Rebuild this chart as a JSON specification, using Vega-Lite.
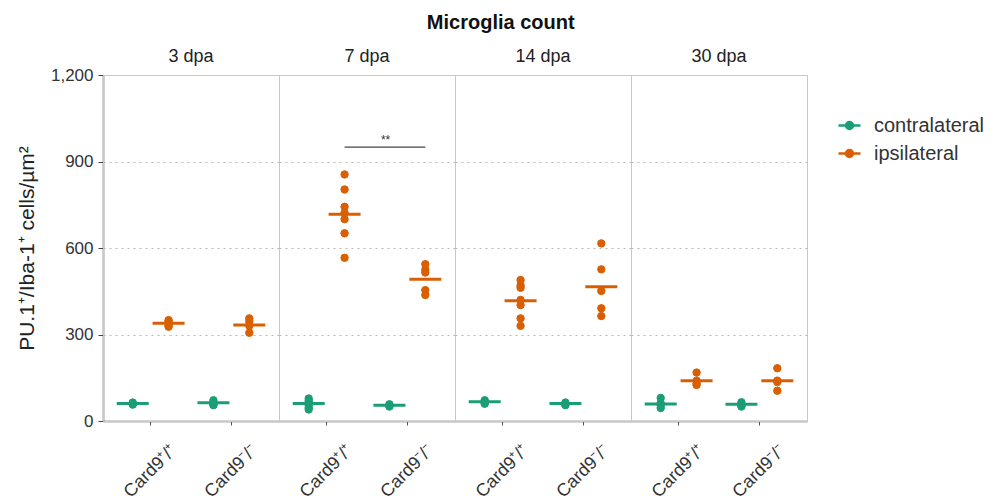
{
  "$schema": "https://vega.github.io/schema/vega-lite/v6.json",
  "background": "white",
  "padding": {"left": 16, "top": 13, "right": 2, "bottom": 2},
  "bounds": "flush",
  "title": {"text": "Microglia count", "fontSize": 20, "fontWeight": "bold", "font": "Liberation Sans", "color": "#111", "anchor": "middle", "offset": 15},
  "config": {
    "font": "Liberation Sans",
    "view": {"stroke": "#c8c8c8", "strokeWidth": 1}
  },
  "data": {"values": [
    {"kind": "point", "dpa": "3 dpa", "genotype": "Card9⁺/⁺", "side": "contralateral", "value": 62},
    {"kind": "point", "dpa": "3 dpa", "genotype": "Card9⁺/⁺", "side": "contralateral", "value": 58},
    {"kind": "point", "dpa": "3 dpa", "genotype": "Card9⁺/⁺", "side": "contralateral", "value": 60},
    {"kind": "point", "dpa": "3 dpa", "genotype": "Card9⁺/⁺", "side": "contralateral", "value": 64},
    {"kind": "point", "dpa": "3 dpa", "genotype": "Card9⁺/⁺", "side": "contralateral", "value": 57},
    {"kind": "point", "dpa": "3 dpa", "genotype": "Card9⁺/⁺", "side": "ipsilateral", "value": 350},
    {"kind": "point", "dpa": "3 dpa", "genotype": "Card9⁺/⁺", "side": "ipsilateral", "value": 345},
    {"kind": "point", "dpa": "3 dpa", "genotype": "Card9⁺/⁺", "side": "ipsilateral", "value": 338},
    {"kind": "point", "dpa": "3 dpa", "genotype": "Card9⁺/⁺", "side": "ipsilateral", "value": 330},
    {"kind": "point", "dpa": "3 dpa", "genotype": "Card9⁺/⁺", "side": "ipsilateral", "value": 327},
    {"kind": "point", "dpa": "3 dpa", "genotype": "Card9⁻/⁻", "side": "contralateral", "value": 72},
    {"kind": "point", "dpa": "3 dpa", "genotype": "Card9⁻/⁻", "side": "contralateral", "value": 64},
    {"kind": "point", "dpa": "3 dpa", "genotype": "Card9⁻/⁻", "side": "contralateral", "value": 60},
    {"kind": "point", "dpa": "3 dpa", "genotype": "Card9⁻/⁻", "side": "contralateral", "value": 57},
    {"kind": "point", "dpa": "3 dpa", "genotype": "Card9⁻/⁻", "side": "contralateral", "value": 55},
    {"kind": "point", "dpa": "3 dpa", "genotype": "Card9⁻/⁻", "side": "ipsilateral", "value": 356},
    {"kind": "point", "dpa": "3 dpa", "genotype": "Card9⁻/⁻", "side": "ipsilateral", "value": 345},
    {"kind": "point", "dpa": "3 dpa", "genotype": "Card9⁻/⁻", "side": "ipsilateral", "value": 330},
    {"kind": "point", "dpa": "3 dpa", "genotype": "Card9⁻/⁻", "side": "ipsilateral", "value": 306},
    {"kind": "point", "dpa": "7 dpa", "genotype": "Card9⁺/⁺", "side": "contralateral", "value": 78},
    {"kind": "point", "dpa": "7 dpa", "genotype": "Card9⁺/⁺", "side": "contralateral", "value": 70},
    {"kind": "point", "dpa": "7 dpa", "genotype": "Card9⁺/⁺", "side": "contralateral", "value": 64},
    {"kind": "point", "dpa": "7 dpa", "genotype": "Card9⁺/⁺", "side": "contralateral", "value": 60},
    {"kind": "point", "dpa": "7 dpa", "genotype": "Card9⁺/⁺", "side": "contralateral", "value": 55},
    {"kind": "point", "dpa": "7 dpa", "genotype": "Card9⁺/⁺", "side": "contralateral", "value": 46},
    {"kind": "point", "dpa": "7 dpa", "genotype": "Card9⁺/⁺", "side": "contralateral", "value": 40},
    {"kind": "point", "dpa": "7 dpa", "genotype": "Card9⁺/⁺", "side": "ipsilateral", "value": 855},
    {"kind": "point", "dpa": "7 dpa", "genotype": "Card9⁺/⁺", "side": "ipsilateral", "value": 803},
    {"kind": "point", "dpa": "7 dpa", "genotype": "Card9⁺/⁺", "side": "ipsilateral", "value": 743},
    {"kind": "point", "dpa": "7 dpa", "genotype": "Card9⁺/⁺", "side": "ipsilateral", "value": 722},
    {"kind": "point", "dpa": "7 dpa", "genotype": "Card9⁺/⁺", "side": "ipsilateral", "value": 700},
    {"kind": "point", "dpa": "7 dpa", "genotype": "Card9⁺/⁺", "side": "ipsilateral", "value": 651},
    {"kind": "point", "dpa": "7 dpa", "genotype": "Card9⁺/⁺", "side": "ipsilateral", "value": 566},
    {"kind": "point", "dpa": "7 dpa", "genotype": "Card9⁻/⁻", "side": "contralateral", "value": 58},
    {"kind": "point", "dpa": "7 dpa", "genotype": "Card9⁻/⁻", "side": "contralateral", "value": 55},
    {"kind": "point", "dpa": "7 dpa", "genotype": "Card9⁻/⁻", "side": "contralateral", "value": 52},
    {"kind": "point", "dpa": "7 dpa", "genotype": "Card9⁻/⁻", "side": "contralateral", "value": 50},
    {"kind": "point", "dpa": "7 dpa", "genotype": "Card9⁻/⁻", "side": "ipsilateral", "value": 544},
    {"kind": "point", "dpa": "7 dpa", "genotype": "Card9⁻/⁻", "side": "ipsilateral", "value": 525},
    {"kind": "point", "dpa": "7 dpa", "genotype": "Card9⁻/⁻", "side": "ipsilateral", "value": 515},
    {"kind": "point", "dpa": "7 dpa", "genotype": "Card9⁻/⁻", "side": "ipsilateral", "value": 454},
    {"kind": "point", "dpa": "7 dpa", "genotype": "Card9⁻/⁻", "side": "ipsilateral", "value": 437},
    {"kind": "point", "dpa": "14 dpa", "genotype": "Card9⁺/⁺", "side": "contralateral", "value": 72},
    {"kind": "point", "dpa": "14 dpa", "genotype": "Card9⁺/⁺", "side": "contralateral", "value": 68},
    {"kind": "point", "dpa": "14 dpa", "genotype": "Card9⁺/⁺", "side": "contralateral", "value": 65},
    {"kind": "point", "dpa": "14 dpa", "genotype": "Card9⁺/⁺", "side": "contralateral", "value": 62},
    {"kind": "point", "dpa": "14 dpa", "genotype": "Card9⁺/⁺", "side": "contralateral", "value": 60},
    {"kind": "point", "dpa": "14 dpa", "genotype": "Card9⁺/⁺", "side": "ipsilateral", "value": 489},
    {"kind": "point", "dpa": "14 dpa", "genotype": "Card9⁺/⁺", "side": "ipsilateral", "value": 470},
    {"kind": "point", "dpa": "14 dpa", "genotype": "Card9⁺/⁺", "side": "ipsilateral", "value": 462},
    {"kind": "point", "dpa": "14 dpa", "genotype": "Card9⁺/⁺", "side": "ipsilateral", "value": 420},
    {"kind": "point", "dpa": "14 dpa", "genotype": "Card9⁺/⁺", "side": "ipsilateral", "value": 402},
    {"kind": "point", "dpa": "14 dpa", "genotype": "Card9⁺/⁺", "side": "ipsilateral", "value": 356},
    {"kind": "point", "dpa": "14 dpa", "genotype": "Card9⁺/⁺", "side": "ipsilateral", "value": 330},
    {"kind": "point", "dpa": "14 dpa", "genotype": "Card9⁻/⁻", "side": "contralateral", "value": 64},
    {"kind": "point", "dpa": "14 dpa", "genotype": "Card9⁻/⁻", "side": "contralateral", "value": 60},
    {"kind": "point", "dpa": "14 dpa", "genotype": "Card9⁻/⁻", "side": "contralateral", "value": 57},
    {"kind": "point", "dpa": "14 dpa", "genotype": "Card9⁻/⁻", "side": "contralateral", "value": 55},
    {"kind": "point", "dpa": "14 dpa", "genotype": "Card9⁻/⁻", "side": "ipsilateral", "value": 616},
    {"kind": "point", "dpa": "14 dpa", "genotype": "Card9⁻/⁻", "side": "ipsilateral", "value": 526},
    {"kind": "point", "dpa": "14 dpa", "genotype": "Card9⁻/⁻", "side": "ipsilateral", "value": 451},
    {"kind": "point", "dpa": "14 dpa", "genotype": "Card9⁻/⁻", "side": "ipsilateral", "value": 391},
    {"kind": "point", "dpa": "14 dpa", "genotype": "Card9⁻/⁻", "side": "ipsilateral", "value": 364},
    {"kind": "point", "dpa": "30 dpa", "genotype": "Card9⁺/⁺", "side": "contralateral", "value": 80},
    {"kind": "point", "dpa": "30 dpa", "genotype": "Card9⁺/⁺", "side": "contralateral", "value": 62},
    {"kind": "point", "dpa": "30 dpa", "genotype": "Card9⁺/⁺", "side": "contralateral", "value": 55},
    {"kind": "point", "dpa": "30 dpa", "genotype": "Card9⁺/⁺", "side": "contralateral", "value": 45},
    {"kind": "point", "dpa": "30 dpa", "genotype": "Card9⁺/⁺", "side": "ipsilateral", "value": 168},
    {"kind": "point", "dpa": "30 dpa", "genotype": "Card9⁺/⁺", "side": "ipsilateral", "value": 140},
    {"kind": "point", "dpa": "30 dpa", "genotype": "Card9⁺/⁺", "side": "ipsilateral", "value": 130},
    {"kind": "point", "dpa": "30 dpa", "genotype": "Card9⁺/⁺", "side": "ipsilateral", "value": 125},
    {"kind": "point", "dpa": "30 dpa", "genotype": "Card9⁻/⁻", "side": "contralateral", "value": 65},
    {"kind": "point", "dpa": "30 dpa", "genotype": "Card9⁻/⁻", "side": "contralateral", "value": 57},
    {"kind": "point", "dpa": "30 dpa", "genotype": "Card9⁻/⁻", "side": "contralateral", "value": 52},
    {"kind": "point", "dpa": "30 dpa", "genotype": "Card9⁻/⁻", "side": "contralateral", "value": 50},
    {"kind": "point", "dpa": "30 dpa", "genotype": "Card9⁻/⁻", "side": "ipsilateral", "value": 183},
    {"kind": "point", "dpa": "30 dpa", "genotype": "Card9⁻/⁻", "side": "ipsilateral", "value": 140},
    {"kind": "point", "dpa": "30 dpa", "genotype": "Card9⁻/⁻", "side": "ipsilateral", "value": 135},
    {"kind": "point", "dpa": "30 dpa", "genotype": "Card9⁻/⁻", "side": "ipsilateral", "value": 105},
    {"kind": "mean", "dpa": "3 dpa", "genotype": "Card9⁺/⁺", "side": "contralateral", "value": 61},
    {"kind": "mean", "dpa": "3 dpa", "genotype": "Card9⁺/⁺", "side": "ipsilateral", "value": 339},
    {"kind": "mean", "dpa": "3 dpa", "genotype": "Card9⁻/⁻", "side": "contralateral", "value": 63},
    {"kind": "mean", "dpa": "3 dpa", "genotype": "Card9⁻/⁻", "side": "ipsilateral", "value": 333},
    {"kind": "mean", "dpa": "7 dpa", "genotype": "Card9⁺/⁺", "side": "contralateral", "value": 61},
    {"kind": "mean", "dpa": "7 dpa", "genotype": "Card9⁺/⁺", "side": "ipsilateral", "value": 717},
    {"kind": "mean", "dpa": "7 dpa", "genotype": "Card9⁻/⁻", "side": "contralateral", "value": 55},
    {"kind": "mean", "dpa": "7 dpa", "genotype": "Card9⁻/⁻", "side": "ipsilateral", "value": 492},
    {"kind": "mean", "dpa": "14 dpa", "genotype": "Card9⁺/⁺", "side": "contralateral", "value": 67},
    {"kind": "mean", "dpa": "14 dpa", "genotype": "Card9⁺/⁺", "side": "ipsilateral", "value": 417},
    {"kind": "mean", "dpa": "14 dpa", "genotype": "Card9⁻/⁻", "side": "contralateral", "value": 61},
    {"kind": "mean", "dpa": "14 dpa", "genotype": "Card9⁻/⁻", "side": "ipsilateral", "value": 466},
    {"kind": "mean", "dpa": "30 dpa", "genotype": "Card9⁺/⁺", "side": "contralateral", "value": 59},
    {"kind": "mean", "dpa": "30 dpa", "genotype": "Card9⁺/⁺", "side": "ipsilateral", "value": 140},
    {"kind": "mean", "dpa": "30 dpa", "genotype": "Card9⁻/⁻", "side": "contralateral", "value": 58},
    {"kind": "mean", "dpa": "30 dpa", "genotype": "Card9⁻/⁻", "side": "ipsilateral", "value": 140},
    {"kind": "sig", "dpa": "7 dpa", "genotype": "Card9⁺/⁺", "side": "ipsilateral", "value": 950},
    {"kind": "sig", "dpa": "7 dpa", "genotype": "Card9⁻/⁻", "side": "ipsilateral", "value": 950},
    {"kind": "sigtext", "dpa": "7 dpa", "genotype": "Card9⁺/⁺", "side": "ipsilateral", "value": 950, "label": "**"}
  ]},
  "facet": {
    "column": {
      "field": "dpa", "type": "ordinal",
      "sort": ["3 dpa", "7 dpa", "14 dpa", "30 dpa"],
      "header": {"title": null, "labelFontSize": 18, "labelFont": "Liberation Sans", "labelColor": "#222", "labelPadding": 9}
    }
  },
  "spacing": 0,
  "spec": {
    "width": 176,
    "height": 346,
    "encoding": {
      "x": {
        "field": "genotype", "type": "nominal", "sort": ["Card9⁺/⁺", "Card9⁻/⁻"],
        "scale": {"paddingInner": 0, "paddingOuter": 0.09},
        "axis": {"title": null, "labelAngle": -45, "labelAlign": "center", "labelBaseline": "middle", "labelFontSize": 18, "labelColor": "#333", "domainColor": "#555", "domainWidth": 1.5, "tickColor": "#555", "tickSize": 4, "labelPadding": 46}
      },
      "xOffset": {"field": "side", "type": "nominal", "sort": ["contralateral", "ipsilateral"], "scale": {"paddingInner": 0, "paddingOuter": 0.125}},
      "y": {
        "field": "value", "type": "quantitative",
        "scale": {"domain": [0, 1200], "nice": false},
        "axis": {
          "title": "PU.1⁺/Iba-1⁺ cells/µm²", "titleFontSize": 21, "titleFontWeight": "normal", "titleColor": "#222", "titlePadding": 13,
          "values": [0, 300, 600, 900, 1200], "format": ",d",
          "labelFontSize": 17, "labelColor": "#333", "labelPadding": 5, "domainColor": "#444", "domainWidth": 1.5, "tickColor": "#444", "tickSize": 5,
          "grid": true, "gridDash": [2, 4], "gridColor": "#b8b8b8",
          "gridOpacity": {"condition": {"test": "datum.value === 0 || datum.value === 1200", "value": 0}, "value": 1}
        }
      }
    },
    "layer": [
      {
        "transform": [{"filter": "datum.kind === 'point'"}],
        "mark": {"type": "point", "filled": true, "size": 55, "opacity": 1, "strokeWidth": 1},
        "encoding": {
          "fill": {"field": "side", "type": "nominal", "scale": {"domain": ["contralateral", "ipsilateral"], "range": ["#1b9e77", "#d95f02"]},
            "legend": {"title": null, "orient": "none", "legendX": 734, "legendY": 38, "labelFontSize": 20, "labelColor": "#333", "labelOffset": 12, "symbolType": "M-1,0L1,0M0.32,0A0.32,0.32,0,1,1,-0.32,0A0.32,0.32,0,1,1,0.32,0Z", "symbolSize": 484, "symbolStrokeWidth": 2.5, "rowPadding": 5, "padding": 0}},
          "stroke": {"field": "side", "type": "nominal", "scale": {"domain": ["contralateral", "ipsilateral"], "range": ["#1b9e77", "#d95f02"]},
            "legend": {"title": null, "orient": "none", "legendX": 734, "legendY": 38, "labelFontSize": 20, "labelColor": "#333", "labelOffset": 12, "symbolType": "M-1,0L1,0M0.32,0A0.32,0.32,0,1,1,-0.32,0A0.32,0.32,0,1,1,0.32,0Z", "symbolSize": 484, "symbolStrokeWidth": 2.5, "rowPadding": 5, "padding": 0}}
        }
      },
      {
        "transform": [{"filter": "datum.kind === 'mean'"}],
        "mark": {"type": "tick", "size": 32, "thickness": 3, "opacity": 1},
        "encoding": {
          "fill": {"field": "side", "type": "nominal", "scale": {"domain": ["contralateral", "ipsilateral"], "range": ["#1b9e77", "#d95f02"]}}
        }
      },
      {
        "transform": [{"filter": "datum.kind === 'sig'"}],
        "mark": {"type": "line", "color": "#444", "strokeWidth": 1.2},
        "encoding": {
          "detail": {"field": "kind"}
        }
      },
      {
        "transform": [{"filter": "datum.kind === 'sigtext'"}],
        "mark": {"type": "text", "color": "#333", "fontSize": 12, "baseline": "bottom", "dx": 41, "dy": 0},
        "encoding": {
          "text": {"field": "label"}
        }
      }
    ]
  }
}
